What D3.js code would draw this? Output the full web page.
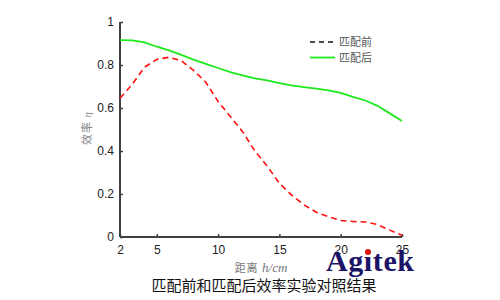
<!DOCTYPE html>
<html>
<head>
<meta charset="utf-8">
<script src="https://cdn.jsdelivr.net/npm/d3@7"></script>
<style>
  body { margin: 0; background: #fff; }
  svg { display: block; font-family: "Liberation Sans", Arial, sans-serif; }
</style>
</head>
<body>
<svg id="chart" width="500" height="300"></svg>
<script>
// distance h/cm
const distance = [2,3,4,5,6,7,8,9,10,11,12,13,14,15,16,17,18,19,20,21,22,23,24,25];
// efficiency before matching
const before = [0.645,0.71,0.79,0.826,0.836,0.82,0.775,0.72,0.63,0.56,0.49,0.40,0.33,0.25,0.195,0.15,0.115,0.095,0.077,0.072,0.07,0.058,0.032,0.008];
// efficiency after matching
const after = [0.916,0.915,0.905,0.885,0.868,0.847,0.825,0.805,0.786,0.767,0.752,0.738,0.728,0.716,0.705,0.697,0.69,0.682,0.670,0.652,0.635,0.61,0.575,0.54];
const xTicks = [2,5,10,15,20,25];
const yTicks = [0,0.2,0.4,0.6,0.8,1];
const legendNames = ["匹配前", "匹配后"];

const svg = d3.select("#chart");
const plotLeft = 120, plotRight = 402, plotTop = 22, plotBottom = 237;

const x = d3.scaleLinear().domain([2, 25]).range([plotLeft, plotRight]);
const y = d3.scaleLinear().domain([0, 1]).range([plotBottom, plotTop]);

// axes, ticks pointing inward
const xAxis = svg.append("g")
    .attr("transform", `translate(0,${plotBottom})`)
    .call(d3.axisBottom(x).tickValues(xTicks).tickSize(-3).tickPadding(8).tickFormat(d3.format("d")));
const yAxis = svg.append("g")
    .attr("transform", `translate(${plotLeft},0)`)
    .call(d3.axisLeft(y).tickValues(yTicks).tickSize(-3).tickPadding(6).tickFormat(d => d === 0 || d === 1 ? d : d.toFixed(1)));

[xAxis, yAxis].forEach(g => {
    g.select(".domain").attr("stroke", "#404040").attr("stroke-width", 2);
    g.selectAll(".tick line").attr("stroke", "#404040").attr("stroke-width", 1.5);
    g.selectAll(".tick text").attr("fill", "#222").style("font-size", "12px");
});
xAxis.select(".domain").attr("d", `M${plotLeft},0H${plotRight}`);
yAxis.select(".domain").attr("d", `M0,${plotTop}V${plotBottom}`);

const line = d3.line().x(d => x(d[0])).y(d => y(d[1]));

svg.append("path")
    .datum(d3.zip(distance, after))
    .attr("d", line)
    .attr("fill", "none")
    .attr("stroke", "#1ee81e")
    .attr("stroke-width", 1.8);

svg.append("path")
    .datum(d3.zip(distance, before))
    .attr("d", line)
    .attr("fill", "none")
    .attr("stroke", "#ff1010")
    .attr("stroke-width", 1.6)
    .attr("stroke-dasharray", "6,4");

// legend
const legend = svg.append("g").attr("transform", "translate(310,42)");
legend.append("line").attr("x1", 0).attr("x2", 25).attr("y1", 0).attr("y2", 0)
    .attr("stroke", "#111").attr("stroke-width", 1.3).attr("stroke-dasharray", "5,4");
legend.append("line").attr("x1", 0).attr("x2", 25).attr("y1", 15.5).attr("y2", 15.5)
    .attr("stroke", "#1ee81e").attr("stroke-width", 1.8);
legend.selectAll("text.leg")
    .data(legendNames)
    .enter().append("text")
    .attr("class", "leg")
    .attr("x", 29)
    .attr("y", (d, i) => i * 15.5 + 4)
    .attr("fill", "#555")
    .style("font-size", "11px")
    .style("font-family", "'Noto Sans CJK SC'")
    .text(d => d);

// axis titles
svg.append("text")
    .attr("transform", "translate(91,128) rotate(-90)")
    .attr("text-anchor", "middle")
    .attr("fill", "#888")
    .style("font-size", "11px")
    .style("letter-spacing", "1px")
    .style("font-family", "'Noto Sans CJK SC'")
    .html('效率 <tspan font-style="italic" font-family="Liberation Serif">η</tspan>');

svg.append("text")
    .attr("x", 261)
    .attr("y", 272)
    .attr("text-anchor", "middle")
    .attr("fill", "#777")
    .style("font-size", "11px")
    .style("letter-spacing", "1px")
    .style("font-family", "'Noto Sans CJK SC'")
    .html('距离 <tspan font-style="italic" font-family="Liberation Serif" font-size="13px" letter-spacing="0">h/cm</tspan>');

// caption
svg.append("text")
    .attr("x", 264)
    .attr("y", 291)
    .attr("text-anchor", "middle")
    .attr("fill", "#111")
    .style("font-size", "15px")
    .style("font-family", "'Noto Sans CJK SC'")
    .text("匹配前和匹配后效率实验对照结果");

// logo
svg.append("text")
    .attr("x", 326)
    .attr("y", 271)
    .attr("fill", "#1c1466")
    .style("font-size", "30px")
    .style("font-weight", "bold")
    .style("letter-spacing", "0.6px")
    .style("font-family", "'Liberation Serif', serif")
    .text("Agitek");
svg.append("circle").attr("cx", 368).attr("cy", 252).attr("r", 3).attr("fill", "#e01010");
</script>
</body>
</html>
